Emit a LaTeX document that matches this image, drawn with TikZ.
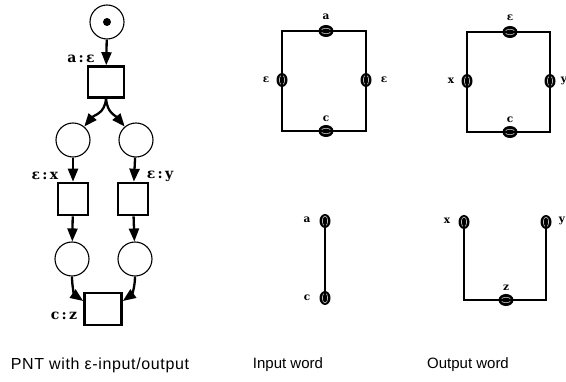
\documentclass[tikz,border=0pt]{standalone}
\usepackage{fontspec}
\setmainfont{Liberation Sans}
\newfontfamily\lblfont{DejaVu Serif}
\usetikzlibrary{arrows.meta,shapes.geometric}
\tikzset{
  place/.style={circle, draw, line width=1.1pt, minimum size=34pt, inner sep=0pt},
  trans/.style={rectangle, draw, line width=2.6pt, minimum width=33pt, minimum height=30pt, inner sep=0pt},
  parc/.style={line width=2.3pt, -{Triangle[length=13pt,width=10pt]}},
  lbl/.style={font=\lblfont\bfseries\fontsize{14}{14}\selectfont, inner sep=0pt},
  elbl/.style={font=\lblfont\bfseries\fontsize{10.5}{10.5}\selectfont, inner sep=0pt},
  wire/.style={line width=1.9pt},
  captxt/.style={font=\fontsize{15}{16}\selectfont, inner sep=0pt},
  evh/.style={ellipse, fill=black, minimum width=15pt, minimum height=12pt, inner sep=0pt,
    path picture={\draw[white, line width=0.45pt] (path picture bounding box.center) ellipse (5pt and 2.8pt);}},
  evv/.style={ellipse, fill=black, minimum width=11pt, minimum height=14pt, inner sep=0pt,
    path picture={\draw[white, line width=0.45pt] (path picture bounding box.center) ellipse (2.7pt and 5pt);}},
  token/.style={circle, fill, minimum size=8pt, inner sep=0pt}
}
\begin{document}
\begin{tikzpicture}[x=1pt,y=1pt]
\useasboundingbox (0,0) rectangle (566,-382);

% ---------- Petri net ----------
\node[place] (p0) at (107,-22) {};
\node[token] (tok) at (107,-22) {};
\node[trans, minimum width=36pt, minimum height=31pt] (t1) at (106,-82) {};
\node[place] (p1) at (73,-140) {};
\node[place] (p2) at (136,-140) {};
\node[trans, minimum width=30pt, minimum height=32pt] (t2) at (73,-199) {};
\node[trans, minimum width=30pt, minimum height=32pt] (t3) at (133,-199) {};
\node[place] (p3) at (72,-259) {};
\node[place] (p4) at (135,-259) {};
\node[trans, minimum width=37pt, minimum height=32pt] (t4) at (103,-309) {};

\draw[parc] (p0) -- (t1);
\draw[parc] (t1.south) to[out=-95, in=50, looseness=1.1] (p1);
\draw[parc] (t1.south) to[out=-85, in=130, looseness=1.1] (p2);
\draw[parc] (p1) -- (t2);
\draw[parc] (p2) -- (t3);
\draw[parc] (t2) -- (p3);
\draw[parc] (t3) -- (p4);
\draw[parc] (p3.south) to[out=-90, in=145] ([yshift=8pt]t4.west);
\draw[parc] (p4.south) to[out=-90, in=35] ([yshift=8pt]t4.east);

\node[lbl] (l1) at (81,-59) {a\,:\,ε};
\node[lbl] (l2) at (45,-176) {ε\,:\,x};
\node[lbl] (l3) at (160,-176) {ε\,:\,y};
\node[lbl] (l4) at (64,-316) {c\,:\,z};

% ---------- Input word (top) ----------
\coordinate (iNW) at (282,-31);
\coordinate (iSE) at (366,-131);
\node[evh] (ia) at (326,-31) {};
\node[evv] (iel) at (282,-80) {};
\node[evv] (ier) at (366,-80) {};
\node[evh] (ic) at (326,-131) {};
\draw[wire] (iNW) rectangle (iSE);
\node[elbl] at (326,-17) {a};
\node[elbl] at (266,-80) {ε};
\node[elbl] at (384,-80) {ε};
\node[elbl] at (326,-119) {c};

% ---------- Output word (top) ----------
\coordinate (oNW) at (467,-32);
\coordinate (oSE) at (550,-132);
\node[evh] (oe) at (510,-32) {};
\node[evv] (ox) at (467,-81) {};
\node[evv] (oy) at (550,-81) {};
\node[evh] (oc) at (510,-132) {};
\draw[wire] (oNW) rectangle (oSE);
\node[elbl] at (510,-18) {ε};
\node[elbl] at (451,-81) {x};
\node[elbl] at (564,-81) {y};
\node[elbl] at (510,-120) {c};

% ---------- Input word (bottom) ----------
\node[evv] (ia2) at (325,-221) {};
\node[evv] (ic2) at (325,-298) {};
\draw[wire] (ia2.center) -- (ic2.center);
\node[elbl] at (307,-220) {a};
\node[elbl] at (307,-298) {c};

% ---------- Output word (bottom) ----------
\node[evv] (ox2) at (464,-222) {};
\node[evv] (oy2) at (546,-222) {};
\node[evh] (oz2) at (506,-300) {};
\draw[wire] (ox2.center) |- (oz2.center) -| (oy2.center);
\node[elbl] at (447,-221) {x};
\node[elbl] at (562,-221) {y};
\node[elbl] at (506,-288) {z};

% ---------- Captions ----------
\node[captxt, font=\addfontfeatures{LetterSpace=4}\fontsize{16}{17}\selectfont] (c1) at (100,-365) {PNT with ε-input/output};
\node[captxt] (c2) at (288,-365) {Input word};
\node[captxt] (c3) at (468,-365) {Output word};
\end{tikzpicture}
\end{document}
